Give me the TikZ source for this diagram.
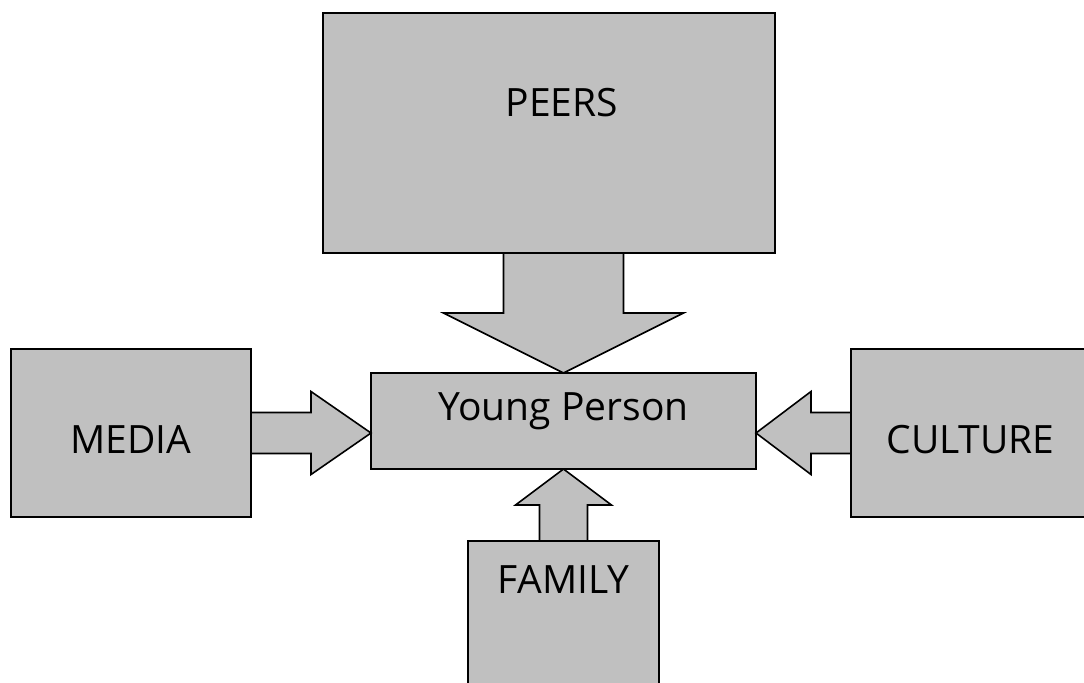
\documentclass[tikz,border=0pt]{standalone}
\usepackage{fontspec}
\setmainfont{Open Sans}
\usepackage{tikz}
\usetikzlibrary{positioning,calc}

\definecolor{boxgray}{RGB}{192,192,192}

\begin{document}
\begin{tikzpicture}[x=0.5pt,y=-0.5pt,
box/.style={draw,rectangle,fill=boxgray,line width=0.8pt,outer sep=0pt,inner sep=0pt},
barrow/.style={draw,fill=boxgray,line width=0.8pt,line join=miter},
lbl/.style={font=\fontsize{19.5}{23}\selectfont,inner sep=0pt}]
\clip (0,0) rectangle (1084,682);
% the five boxes
\node (peers) [box,minimum width=226pt,minimum height=120pt] at (549,133) {};
\node (yp) [box,minimum width=192.5pt,minimum height=48pt] at (563.5,421) {};
\node (media) [box,minimum width=120pt,minimum height=84pt] at (131,433) {};
\node (culture) [box,minimum width=119.5pt,minimum height=84pt] at (970.5,433) {};
\node (family) [box,minimum width=95.5pt,minimum height=89.5pt] at (563.5,630.5) {};
% texts
\node (peerstxt) [lbl] at ($(peers.north)+(13,90)$) {PEERS};
\node (yptxt) [lbl] at ($(yp.center)+(0,-10)$) {Young Person};
\node (mediatxt) [lbl] at ($(media.center)+(0,7)$) {MEDIA};
\node (culturetxt) [lbl] at ($(culture.center)+(0,7)$) {CULTURE};
\node (familytxt) [lbl] at ($(family.north)+(0,39)$) {FAMILY};
% block arrows into the young person
\draw[barrow] (yp.north) -- ++(-120,-60) -- ++(60,0)
  -- ($(yp.north |- peers.south)+(-60,0)$) -- ++(120,0) -- ++(0,60) -- ++(60,0) -- cycle;
\draw[barrow] (yp.west |- media.east) -- ++(-60,-41.5) -- ++(0,21)
  -- ($(media.east)+(0,-20.5)$) -- ++(0,41) -- ++(60,0) -- ++(0,21) -- cycle;
\draw[barrow] (yp.east |- culture.west) -- ++(55,-41.5) -- ++(0,21)
  -- ($(culture.west)+(0,-20.5)$) -- ++(0,41) -- ++(-40,0) -- ++(0,21) -- cycle;
\draw[barrow] (yp.south) -- ++(-48,36) -- ++(24,0)
  -- ($(yp.south |- family.north)+(-24,0)$) -- ++(48,0) -- ++(0,-36) -- ++(24,0) -- cycle;
\end{tikzpicture}
\end{document}
